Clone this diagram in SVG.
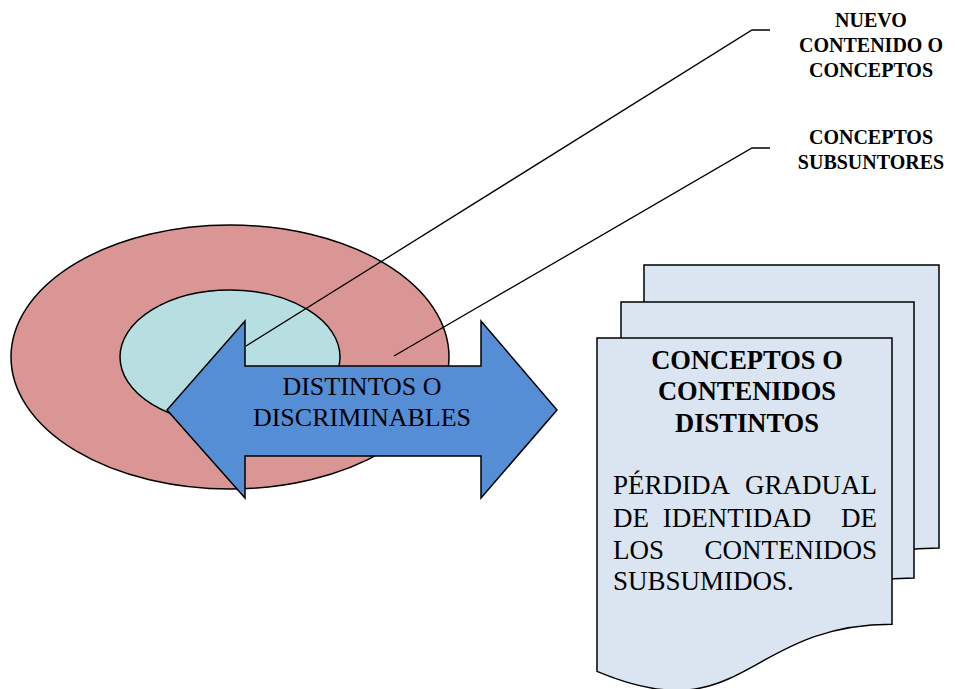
<svg xmlns="http://www.w3.org/2000/svg" width="956" height="689" viewBox="0 0 956 689">
  <style>
    .shape { stroke: #000; stroke-width: 1.5; stroke-linejoin: miter; }
    .outer { fill: #d99694; }
    .inner { fill: #b7dee0; }
    .arrow { fill: #558ed5; }
    .doc { fill: #dbe5f1; }
    .leader { fill: none; stroke: #000; stroke-width: 1.3; }
    text { font-family: 'Liberation Serif', Tinos, 'Times New Roman', 'DejaVu Serif', serif; fill: #000; }
    .label { font-weight: bold; font-size: 20px; text-anchor: middle; }
    .arrowText { font-size: 26px; text-anchor: middle; }
    .docTitle { font-weight: bold; font-size: 26.5px; text-anchor: middle; }
    .docBody { font-size: 27px; }
    .end { text-anchor: end; }
    .mid { text-anchor: middle; }
  </style>

  <!-- concentric concept rings -->
  <g id="subsumer-ring">
    <ellipse class="shape outer" cx="230" cy="357" rx="219" ry="132"/>
  </g>
  <g id="new-content">
    <ellipse class="shape inner" cx="230" cy="357" rx="110" ry="67"/>
  </g>

  <!-- leader lines from the labels -->
  <g id="connectors">
    <polyline class="leader" points="246,346 752,30 770,30"/>
    <polyline class="leader" points="394,356 752,148 770,148"/>
  </g>

  <!-- double-headed arrow -->
  <g id="distinct-arrow">
    <path class="shape arrow" d="M167,410 L245,321 L245,366 L481,366 L481,321 L557,410 L481,498 L481,456 L245,456 L245,498 Z"/>
    <text class="arrowText" x="362" y="395">DISTINTOS O</text>
    <text class="arrowText" x="362" y="426">DISCRIMINABLES</text>
  </g>

  <!-- labels -->
  <g id="label-new">
    <text class="label" x="871" y="27">NUEVO</text>
    <text class="label" x="871" y="52">CONTENIDO O</text>
    <text class="label" x="871" y="77">CONCEPTOS</text>
  </g>
  <g id="label-subsumers">
    <text class="label" x="871" y="144">CONCEPTOS</text>
    <text class="label" x="871" y="169">SUBSUNTORES</text>
  </g>

  <!-- stacked documents -->
  <g id="documents">
    <path class="shape doc" d="M644,265 H939 V548 C791.5,548 791.5,656 644,594.7 Z"/>
    <path class="shape doc" d="M621,302 H914 V578 C767.5,578 767.5,683 621,623.3 Z"/>
    <path class="shape doc" d="M597,338 H892 V624.3 C744.5,624.3 744.5,733.4 597,671.4 Z"/>
    <text class="docTitle" x="747" y="369">CONCEPTOS O</text>
    <text class="docTitle" x="747" y="400">CONTENIDOS</text>
    <text class="docTitle" x="747" y="432">DISTINTOS</text>
    <!-- justified body: words pinned to the left and right margins -->
    <text class="docBody" x="613" y="494">PÉRDIDA</text>
    <text class="docBody end" x="877" y="494">GRADUAL</text>
    <text class="docBody" x="613" y="527">DE</text>
    <text class="docBody mid" x="737" y="527">IDENTIDAD</text>
    <text class="docBody end" x="877" y="527">DE</text>
    <text class="docBody" x="613" y="559">LOS</text>
    <text class="docBody end" x="877" y="559">CONTENIDOS</text>
    <text class="docBody" x="613" y="590">SUBSUMIDOS.</text>
  </g>
</svg>
